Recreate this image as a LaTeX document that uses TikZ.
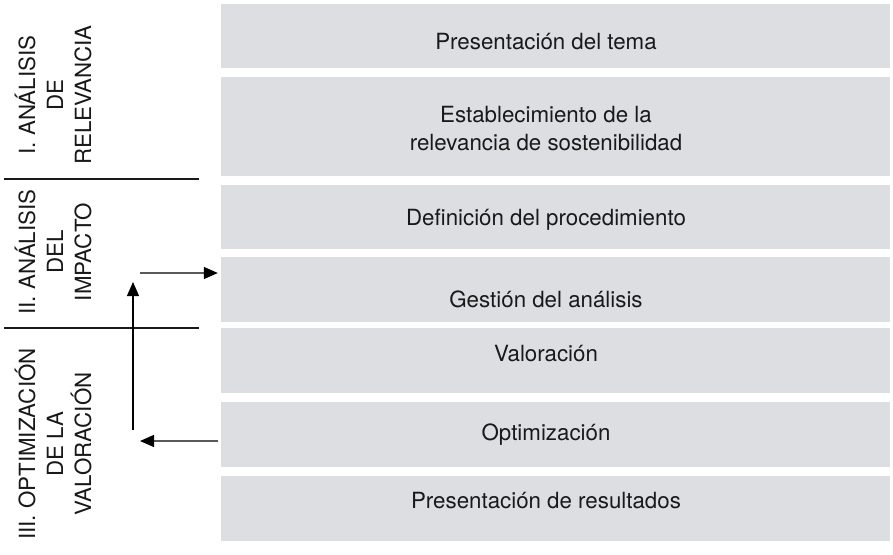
\documentclass[tikz,border=0pt]{standalone}
\usepackage{fontspec}
\setmainfont{TeX Gyre Heros}
\usetikzlibrary{arrows.meta,positioning,calc}
\definecolor{faseBg}{RGB}{220,222,226}
\definecolor{faseInk}{RGB}{25,25,25}
\definecolor{lineInk}{RGB}{25,25,25}
\definecolor{flechaInk}{RGB}{90,90,90}

\begin{document}
\begin{tikzpicture}[
  x=1pt, y=-1pt,
  font=\fontsize{22.3}{28}\selectfont,
  fase/.style  ={fill=faseBg, draw=none, minimum width=669pt, inner sep=0pt},
  txt/.style   ={text=faseInk, align=center, inner sep=0pt},
  etapa/.style ={text=faseInk, align=center, inner sep=0pt, rotate=90},
  sep/.style   ={draw=lineInk, line width=2.6pt},
  flecha/.style={-{Triangle[length=14pt,width=12pt,color=black]}, line width=1.3pt, draw=flechaInk},
  subida/.style={-{Triangle[length=14pt,width=12pt]}, line width=1.2pt, draw=black},
]
\useasboundingbox (0,0) rectangle (893,554);

% ================= FASES (derecha) =================
\node[fase, minimum height=64pt] (b1) at (555.5,36)   {};
\node[fase, minimum height=99pt] (b2) at (555.5,126.5) {};
\node[fase, minimum height=64pt] (b3) at (555.5,217)  {};
\node[fase, minimum height=65pt] (b4) at (555.5,289.5) {};
\node[fase, minimum height=65pt] (b5) at (555.5,360.5) {};
\node[fase, minimum height=65pt] (b6) at (555.5,434.5) {};
\node[fase, minimum height=65pt] (b7) at (555.5,508.5) {};

\node[txt] (t1) at (546,42)  {Presentación del tema};
\node[txt] (t2) at (546,129) {Establecimiento de la\\relevancia de sostenibilidad};
\node[txt] (t3) at (546,220) {Definición del procedimiento};
\node[txt] (t4) at (546,299) {Gestión del análisis};
\node[txt] (t5) at (546,354) {Valoración};
\node[txt] (t6) at (546,435) {Optimización};
\node[txt] (t7) at (546,501) {Presentación de resultados};

% ================= ETAPAS (izquierda) =================
\node[etapa] (e1) at (53,95)  {I. ANÁLISIS\\DE\\RELEVANCIA};
\node[etapa] (e2) at (53,252) {II. ANÁLISIS\\DEL\\IMPACTO};
\node[etapa] (e3) at (53,444) {III. OPTIMIZACIÓN\\DE LA\\VALORACIÓN};

\coordinate (s1w) at (4,179);
\coordinate (s2w) at (4,328);
\draw[sep] (s1w) -- ++(195,0);
\draw[sep] (s2w) -- ++(195,0);

% ================= RETORNO =================
\coordinate (ret) at (140,441);
\coordinate (baja) at (133,430);
\coordinate (sube) at (133,282);
\coordinate (ida) at (140,273);
\draw[flecha] ([xshift=-3pt]b6.west |- ret) -- (ret);
\draw[subida] (baja) -- (sube);
\draw[flecha] (ida) -- ([xshift=-3pt]ida -| b4.west);

\end{tikzpicture}
\end{document}
